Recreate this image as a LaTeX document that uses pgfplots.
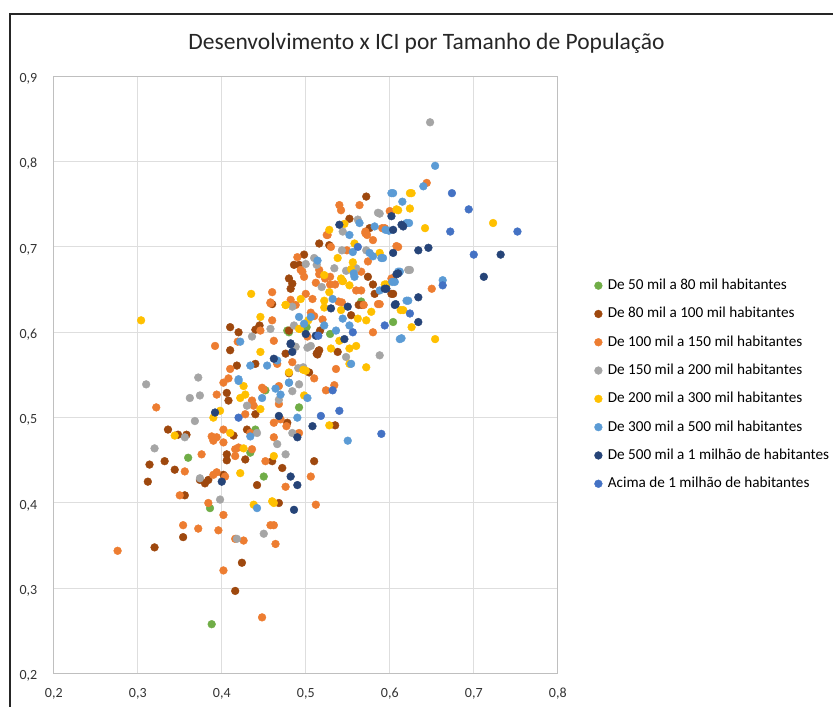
\documentclass[border=0pt]{standalone}
\usepackage{fontspec}
\setmainfont{Carlito}
\usepackage{pgfplots}
\pgfplotsset{compat=1.18}
\definecolor{cgreen}{HTML}{70AD47}
\definecolor{cbrown}{HTML}{9E480E}
\definecolor{corange}{HTML}{ED7D31}
\definecolor{cgray}{HTML}{A5A5A5}
\definecolor{cyellow}{HTML}{FFC000}
\definecolor{clblue}{HTML}{5B9BD5}
\definecolor{cnavy}{HTML}{264478}
\definecolor{cblue}{HTML}{4472C4}
\pgfplotsset{pt/.style={only marks, mark=*, mark size=3.9pt, mark options={draw=#1, fill=#1}, color=#1}}
\begin{document}
\begin{tikzpicture}[x=1pt,y=1pt]
\path[use as bounding box] (0,0) rectangle (833,707);
\draw[line width=1.6pt, color=black!85] (10,0) -- (10,693) -- (833,693);
\begin{axis}[
  at={(64,39)}, anchor=south west,
  scale only axis, width=504pt, height=597.5pt,
  xmin=0.2, xmax=0.8, ymin=0.2, ymax=0.9,
  xtick={0.2,0.3,0.4,0.5,0.6,0.7,0.8},
  ytick={0.2,0.3,0.4,0.5,0.6,0.7,0.8,0.9},
  grid=major, grid style={line width=1pt, color=black!13},
  axis line style={line width=1pt, color=black!25},
  major tick length=0pt,
  /pgf/number format/.cd, fixed, fixed zerofill, precision=1, use comma, assume math mode=true,
  /pgfplots/.cd,
  ticklabel style={font=\fontsize{14}{16}\selectfont, color=black!80},
  xticklabel style={yshift=-11pt},
  yticklabel style={xshift=-13pt, yshift=-2.5pt},
  title={Desenvolvimento x ICI por Tamanho de População},
  title style={font=\fontsize{23.5}{28}\selectfont, at={(0.7395,1.0)}, anchor=south, yshift=13pt, color=black!85},
  legend style={at={(1.0725,0.4837)}, anchor=west, draw=none, fill=none,
    font=\fontsize{15.2}{18}\selectfont, row sep=16.3pt, inner sep=0pt,
    nodes={inner ysep=0pt, inner xsep=5.5pt, text depth=2pt, text height=10pt}},
  legend cell align=left,
  clip=false,
]
\addplot[pt=cgreen] coordinates {
 (.360,.453)(.440,.486)(.434,.459)(.450,.431)(.452,.532)(.492,.512)(.386,.394)(.388,.258)
 (.478,.602)(.501,.606)(.566,.636)(.604,.612)(.529,.598)(.480,.600)(.500,.606)
};
\addplot[pt=cbrown] coordinates {
 (.336,.486)(.348,.480)(.358,.480)(.314,.445)(.332,.449)(.344,.439)(.312,.425)(.356,.409)
 (.374,.427)(.380,.423)(.384,.427)(.402,.433)(.406,.457)(.406,.450)(.428,.451)(.460,.449)
 (.472,.441)(.442,.421)(.414,.479)(.430,.486)(.440,.504)(.406,.529)(.408,.520)(.478,.494)
 (.510,.449)(.468,.400)(.354,.360)(.320,.348)(.424,.330)(.416,.297)(.535,.491)
 (.410,.606)(.420,.600)(.410,.579)(.418,.561)(.440,.563)(.440,.603)(.445,.608)(.476,.575)
 (.480,.602)(.504,.553)(.460,.633)(.513,.575)(.515,.578)
 (.516,.704)(.528,.702)(.498,.691)(.486,.679)(.492,.679)(.480,.663)(.484,.657)(.482,.651)
 (.563,.632)(.567,.632)(.554,.620)(.574,.665)(.580,.656)(.582,.645)(.604,.645)(.517,.602)
 (.516,.579)(.514,.574)(.538,.577)(.480,.552)(.576,.722)(.572,.759)(.552,.733)(.602,.645)
};
\addplot[pt=corange] coordinates {
 (.276,.344)(.322,.512)(.350,.409)(.356,.437)(.376,.457)(.394,.527)(.402,.541)(.388,.478)
 (.394,.477)(.390,.473)(.402,.486)(.402,.471)(.416,.463)(.420,.465)(.416,.455)(.436,.463)
 (.428,.504)(.436,.520)(.438,.514)(.434,.482)(.452,.449)(.448,.535)(.450,.533)(.468,.516)
 (.468,.537)(.462,.494)(.470,.498)(.477,.490)(.462,.477)(.492,.482)(.506,.431)(.476,.419)
 (.390,.433)(.394,.436)(.404,.431)(.384,.400)(.402,.386)(.354,.374)(.372,.370)(.396,.368)
 (.416,.358)(.426,.356)(.458,.374)(.462,.374)(.464,.352)(.512,.398)(.402,.321)(.448,.266)
 (.510,.546)(.392,.584)(.408,.546)(.410,.557)(.419,.589)(.462,.590)(.460,.614)(.446,.602)
 (.484,.565)(.466,.563)(.458,.634)(.526,.714)(.571,.718)(.573,.714)(.580,.708)(.594,.722)
 (.610,.700)(.574,.683)(.549,.696)(.530,.700)(.490,.688)(.496,.671)(.494,.673)(.498,.665)
 (.516,.673)(.516,.668)(.529,.665)(.523,.663)(.535,.656)(.529,.656)(.512,.658)(.560,.649)
 (.566,.649)(.566,.671)(.544,.660)(.460,.647)(.458,.635)(.482,.638)(.500,.645)(.508,.639)
 (.488,.632)(.506,.623)(.510,.619)(.520,.615)(.539,.636)(.543,.635)(.569,.632)(.588,.633)
 (.580,.600)(.502,.595)(.604,.663)(.536,.557)(.534,.538)(.524,.532)(.540,.749)(.542,.743)
 (.564,.749)(.602,.741)(.591,.722)(.571,.716)(.525,.714)(.644,.775)(.600,.742)(.608,.701)
 (.602,.663)(.650,.651)(.586,.633)
};
\addplot[pt=cgray] coordinates {
 (.310,.539)(.362,.523)(.374,.526)(.368,.496)(.356,.477)(.320,.464)(.374,.429)(.398,.404)
 (.430,.514)(.468,.521)(.484,.531)(.492,.539)(.442,.482)(.484,.482)(.466,.469)(.476,.457)
 (.450,.364)(.418,.358)(.372,.547)(.436,.595)(.458,.604)(.486,.608)(.488,.583)(.484,.630)
 (.544,.718)(.510,.687)(.500,.680)(.513,.679)(.543,.696)(.572,.696)(.534,.675)(.548,.672)
 (.560,.675)(.624,.673)(.519,.653)(.487,.583)(.502,.582)(.506,.584)(.548,.571)(.588,.573)
 (.491,.558)(.497,.559)(.648,.846)(.588,.739)(.562,.732)(.622,.673)(.586,.740)
};
\addplot[pt=cyellow] coordinates {
 (.304,.614)(.344,.479)(.390,.500)(.398,.508)(.410,.482)(.426,.537)(.422,.523)(.428,.527)
 (.446,.510)(.426,.464)(.462,.455)(.422,.435)(.438,.398)(.460,.402)(.462,.400)(.498,.526)
 (.446,.618)(.446,.577)(.480,.553)(.476,.632)(.492,.604)(.500,.555)(.497,.556)
 (.435,.645)(.528,.720)(.558,.704)(.588,.693)(.538,.687)(.556,.682)(.554,.674)(.522,.667)
 (.542,.663)(.544,.660)(.552,.655)(.528,.647)(.494,.639)(.476,.632)(.522,.637)(.522,.629)
 (.542,.626)(.562,.616)(.572,.614)(.578,.624)(.616,.626)(.626,.606)(.503,.614)(.493,.604)
 (.596,.656)(.540,.590)(.552,.581)(.560,.584)(.530,.581)(.572,.559)(.552,.563)(.528,.491)
 (.546,.727)(.610,.743)(.626,.763)(.624,.745)(.624,.763)(.608,.744)(.642,.722)(.723,.728)
 (.594,.656)(.613,.626)(.654,.592)
};
\addplot[pt=clblue] coordinates {
 (.420,.543)(.448,.523)(.464,.534)(.470,.527)(.480,.541)(.490,.500)(.502,.523)(.434,.478)
 (.442,.394)(.422,.589)(.434,.561)(.454,.561)(.466,.567)(.492,.618)(.506,.618)(.498,.610)
 (.564,.728)(.582,.724)(.552,.714)(.599,.719)(.623,.728)(.576,.693)(.580,.689)(.592,.687)
 (.556,.694)(.514,.684)(.557,.669)(.558,.665)(.606,.659)(.612,.671)(.588,.649)(.622,.637)
 (.532,.639)(.544,.616)(.522,.608)(.552,.608)(.536,.602)(.614,.593)(.554,.563)(.480,.541)
 (.654,.795)(.640,.771)(.602,.763)(.615,.753)(.620,.728)(.595,.720)(.590,.687)(.610,.671)
 (.603,.659)(.620,.637)(.663,.661)(.612,.592)(.550,.473)(.420,.545)(.604,.763)
};
\addplot[pt=cnavy] coordinates {
 (.392,.506)(.468,.502)(.508,.490)(.490,.477)(.482,.431)(.490,.421)(.400,.425)(.486,.392)
 (.462,.569)(.482,.587)(.484,.577)(.500,.598)(.512,.596)(.540,.726)(.604,.720)(.616,.724)
 (.604,.693)(.634,.696)(.610,.669)(.596,.651)(.606,.632)(.607,.633)(.634,.641)(.550,.630)
 (.530,.628)(.634,.612)(.546,.592)(.602,.736)(.614,.726)(.646,.699)(.732,.691)(.712,.665)
 (.608,.668)(.594,.651)(.482,.586)
};
\addplot[pt=cblue] coordinates {
 (.420,.500)(.518,.502)(.515,.596)(.562,.700)(.624,.622)(.594,.608)(.556,.600)(.532,.532)
 (.674,.763)(.694,.744)(.672,.718)(.752,.718)(.700,.691)(.663,.655)(.540,.508)(.590,.481)
};
\legend{De 50 mil a 80 mil habitantes,De 80 mil a 100 mil habitantes,De 100 mil a 150 mil habitantes,De 150 mil a 200 mil habitantes,De 200 mil a 300 mil habitantes,De 300 mil a 500 mil habitantes,De 500 mil a 1 milhão de habitantes,Acima de 1 milhão de habitantes}
\end{axis}
\end{tikzpicture}
\end{document}
